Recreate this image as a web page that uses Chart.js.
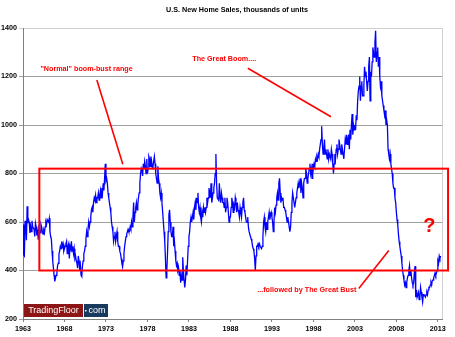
<!DOCTYPE html>
<html>
<head>
<meta charset="utf-8">
<script src="https://cdn.jsdelivr.net/npm/chart.js@4.4.1/dist/chart.umd.min.js"></script>
<style>
  html, body { margin: 0; padding: 0; background: #fff; }
  #wrap { width: 455px; height: 337px; position: relative; }
</style>
</head>
<body>
<div id="wrap"><canvas id="salesChart"></canvas></div>
<script>
// monthly new home sales, thousands of units (SAAR)
const startYear = 1963;
const sales1960s = [
  590, 465, 460, 605, 585, 525, 665, 595, 610, 600, 555, 580,
  560, 605, 580, 575, 570, 540, 595, 580, 545, 570, 530, 575,
  565, 555, 590, 580, 560, 550, 565, 555, 580, 600, 590, 610,
  610, 600, 615, 560, 540, 530, 480, 440, 410, 380, 355, 370,
  380, 390, 420, 430, 470, 480, 500, 490, 520, 500, 510, 480,
  490, 500, 510, 520, 470, 500, 510, 450, 500, 490, 520, 480,
  500, 470, 490, 450, 460, 440, 430, 410, 460, 440, 400, 420
];
const sales1970s = [
  380, 375, 420, 440, 470, 480, 500, 530, 560, 540, 570, 600,
  580, 600, 620, 650, 660, 640, 680, 700, 690, 710, 680, 700,
  700, 720, 690, 710, 730, 700, 740, 720, 760, 730, 780, 840,
  770, 780, 760, 720, 700, 680, 660, 640, 600, 580, 560, 520,
  540, 560, 520, 540, 560, 520, 500, 500, 480, 470, 450, 430,
  415, 440, 470, 500, 520, 540, 550, 560, 570, 560, 560, 580,
  570, 600, 580, 620, 680, 600, 640, 660, 680, 650, 670, 700,
  720, 760, 800, 820, 810, 790, 840, 820, 850, 830, 800, 860,
  800, 820, 870, 860, 830, 870, 850, 820, 830, 850, 870, 840,
  800, 780, 760, 830, 780, 760, 720, 700, 720, 680, 640, 600
];
const sales1980s = [
  560, 520, 450, 370, 400, 470, 560, 630, 650, 600, 560, 540,
  540, 580, 500, 520, 480, 440, 420, 430, 400, 410, 380, 400,
  350, 380, 360, 455, 400, 360, 330, 360, 420, 380, 440, 500,
  540, 560, 600, 620, 600, 620, 640, 610, 660, 680, 650, 700,
  680, 720, 660, 640, 660, 620, 600, 640, 620, 660, 640, 660,
  640, 660, 700, 680, 700, 740, 720, 700, 760, 680, 700, 720,
  740, 760, 800, 880, 760, 700, 700, 690, 760, 700, 680, 720,
  700, 680, 680, 660, 700, 640, 660, 700, 680, 640, 600, 620,
  620, 660, 700, 680, 640, 670, 660, 700, 680, 640, 680, 650,
  640, 620, 660, 640, 620, 660, 680, 700, 650, 640, 620, 600
];
const sales1990s = [
  600, 620, 580, 560, 560, 540, 530, 520, 500, 490, 480, 450,
  400, 460, 500, 500, 510, 500, 510, 500, 500, 490, 500, 540,
  600, 620, 580, 560, 600, 570, 600, 620, 640, 610, 630, 640,
  620, 600, 560, 600, 660, 640, 670, 700, 720, 690, 760, 780,
  720, 680, 700, 690, 700, 660, 660, 650, 640, 620, 600, 620,
  600, 580, 560, 580, 640, 680, 720, 700, 680, 660, 680, 700,
  720, 740, 760, 740, 760, 780, 720, 760, 740, 700, 760, 780,
  780, 820, 800, 760, 780, 800, 820, 840, 800, 820, 780, 840,
  820, 840, 830, 860, 850, 870, 860, 880, 870, 900, 920, 940,
  995, 920, 880, 900, 940, 880, 900, 880, 860, 900, 860, 880
];
const sales2000s = [
  880, 860, 900, 880, 840, 800, 840, 880, 860, 900, 920, 880,
  900, 940, 920, 900, 880, 920, 900, 880, 860, 900, 940, 920,
  960, 920, 940, 960, 900, 980, 940, 1000, 1045, 960, 1000, 980,
  1000, 980, 1040, 1020, 1100, 1140, 1160, 1200, 1100, 1160, 1180, 1120,
  1120, 1160, 1240, 1200, 1220, 1180, 1140, 1180, 1240, 1280, 1100, 1220,
  1200, 1260, 1320, 1300, 1280, 1340, 1389, 1260, 1300, 1320, 1240, 1280,
  1200, 1160, 1180, 1120, 1100, 1080, 1060, 1040, 1060, 1000, 1020, 1000,
  900, 880, 860, 880, 840, 820, 800, 760, 740, 740, 700, 680,
  640, 610, 590, 550, 520, 500, 480, 460, 430, 400, 380, 360,
  340, 350, 330, 350, 370, 380, 400, 420, 380, 400, 370, 350
];
const sales2010s = [
  340, 350, 390, 418, 290, 320, 290, 290, 310, 280, 290, 330,
  310, 290, 270, 300, 300, 300, 290, 300, 310, 300, 320, 330,
  330, 340, 350, 340, 360, 360, 370, 380, 390, 380, 390, 400,
  440, 430, 460, 450, 460
];
const yearTicks = [1963, 1968, 1973, 1978, 1983, 1988, 1993, 1998, 2003, 2008, 2013];
const valueTicks = [200, 400, 600, 800, 1000, 1200, 1400];

// "normal" range box, in years / units
const rangeBox = { x0: 1964.97, x1: 2014.23, y0: 400, y1: 820 };

const allSales = [].concat(sales1960s, sales1970s, sales1980s, sales1990s, sales2000s, sales2010s);
const points = allSales.map((v, i) => ({ x: startYear + i / 12, y: v }));

const RED = '#ff0000';
const FONT = '"Liberation Sans", Arial, sans-serif';

// title, red notes, box and logo
const notesPlugin = {
  id: 'notes',
  afterDraw(chart) {
    const ctx = chart.ctx;
    const xs = chart.scales.x, ys = chart.scales.y;
    const px = v => xs.getPixelForValue(v);
    const py = v => ys.getPixelForValue(v);
    const area = chart.chartArea;
    ctx.save();

    // right frame
    ctx.strokeStyle = '#d0d0d0';
    ctx.lineWidth = 1;
    ctx.beginPath();
    ctx.moveTo(area.right + 0.5, area.top);
    ctx.lineTo(area.right + 0.5, area.bottom);
    ctx.stroke();

    // title
    ctx.fillStyle = '#000';
    ctx.font = 'bold 7.2px ' + FONT;
    ctx.textAlign = 'center';
    ctx.textBaseline = 'middle';
    ctx.fillText('U.S. New Home Sales, thousands of units', 237, 10);

    // range box
    ctx.strokeStyle = RED;
    ctx.lineWidth = 2;
    ctx.strokeRect(px(rangeBox.x0), py(rangeBox.y1), px(rangeBox.x1) - px(rangeBox.x0), py(rangeBox.y0) - py(rangeBox.y1));

    // arrows
    ctx.lineWidth = 1.6;
    const line = (a, b) => {
      ctx.beginPath();
      ctx.moveTo(px(a[0]), py(a[1]));
      ctx.lineTo(px(b[0]), py(b[1]));
      ctx.stroke();
    };
    line([1971.9, 1186], [1975.03, 838]);
    line([1990.1, 1234], [2000.12, 1034]);
    line([2003.47, 326], [2007.09, 482]);

    // labels
    ctx.fillStyle = RED;
    ctx.font = 'bold 7.2px ' + FONT;
    ctx.fillText('"Normal" boom-bust range', px(1970.66), py(1230));
    ctx.fillText('The Great Boom....', px(1987.25), py(1272));
    ctx.fillText('...followed by The Great Bust', px(1997.2), py(320));
    ctx.font = 'bold 20px ' + FONT;
    ctx.fillText('?', px(2011.98), py(580));

    // TradingFloor logo
    const lx = area.left + 1, ly = area.bottom - 15;
    ctx.fillStyle = '#8c1515';
    ctx.fillRect(lx, ly, 59, 13);
    ctx.fillStyle = '#183a5e';
    ctx.fillRect(lx + 60, ly, 24, 13);
    ctx.fillStyle = '#fff';
    ctx.font = '9px ' + FONT;
    ctx.fillText('TradingFloor', lx + 29.5, ly + 7);
    ctx.fillText('com', lx + 73, ly + 7);
    ctx.fillRect(lx + 61, ly + 6, 1.5, 1.5);
    ctx.restore();
  }
};

new Chart(document.getElementById('salesChart'), {
  type: 'line',
  data: {
    datasets: [{
      data: points,
      borderColor: '#0000ff',
      borderWidth: 1.3,
      pointRadius: 0,
      tension: 0,
      fill: false
    }]
  },
  options: {
    responsive: true,
    maintainAspectRatio: false,
    animation: false,
    layout: { padding: { left: 0, top: 28, right: 13, bottom: 0 } },
    plugins: {
      legend: { display: false },
      tooltip: { enabled: false }
    },
    scales: {
      x: {
        type: 'linear',
        min: 1963,
        max: 2013.5,
        afterBuildTicks: axis => { axis.ticks = yearTicks.map(v => ({ value: v })); },
        afterFit: axis => { axis.height = 18; },
        grid: { drawOnChartArea: false, color: '#808080', tickLength: 3 },
        border: { color: '#808080' },
        ticks: {
          color: '#000',
          font: { family: FONT, size: 7.2, weight: 'bold' },
          padding: 3,
          maxRotation: 0,
          autoSkip: false,
          callback: v => String(v)
        }
      },
      y: {
        min: 200,
        max: 1400,
        afterBuildTicks: axis => { axis.ticks = valueTicks.map(v => ({ value: v })); },
        afterFit: axis => { axis.width = 23; },
        grid: {
          color: ctx => (ctx.tick && ctx.tick.value === 1400) ? '#d0d0d0' : '#a0a0a0',
          tickLength: 4
        },
        border: { color: '#808080' },
        ticks: {
          color: '#000',
          font: { family: FONT, size: 7.2, weight: 'bold' },
          padding: 2,
          callback: v => String(v)
        }
      }
    }
  },
  plugins: [notesPlugin]
});
</script>
</body>
</html>
